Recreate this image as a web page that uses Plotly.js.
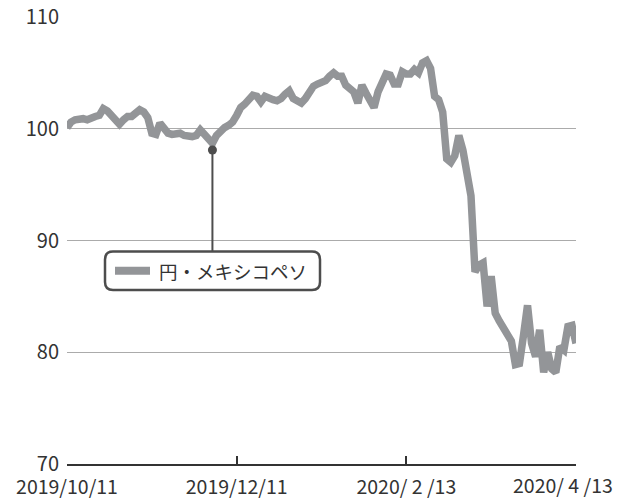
<!DOCTYPE html>
<html>
<head>
<meta charset="utf-8">
<script src="https://cdn.plot.ly/plotly-3.0.1.min.js"></script>
<style>html,body{margin:0;padding:0;background:#fff;}#chart{width:618px;height:499px;}</style>
</head>
<body>
<div id="chart"></div>
<script>
// Trading-day index (0 = 2019/10/11, 126 = 2020/4/13)
const dayIndex = [];
for (let i = 0; i <= 126; i++) dayIndex.push(i);

// 円・メキシコペソ (index, 2019/10/11 = 100)
const yenMxn = [
  100.1, 100.6, 100.8, 100.9, 100.9, 100.8, 101.0, 101.1, 101.2, 101.8,
  101.6, 101.2, 100.8, 100.4, 100.8, 101.1, 101.1, 101.4, 101.7, 101.5,
  101.0, 99.6, 99.5, 100.5, 99.9, 99.6, 99.5, 99.6, 99.6, 99.4,
  99.3, 99.3, 99.4, 99.9, 99.5, 99.0, 98.7, 99.4, 99.8, 100.1,
  100.3, 100.6, 101.2, 101.9, 102.2, 102.7, 103.0, 102.9, 102.4, 102.9,
  102.7, 102.6, 102.5, 102.7, 103.1, 103.4, 102.7, 102.4, 102.3, 102.7,
  103.4, 103.8, 104.0, 104.1, 104.3, 104.7, 105.0, 104.7, 104.7, 103.9,
  103.5, 103.3, 102.3, 103.9, 103.2, 102.4, 101.9, 103.3, 104.3, 104.9,
  104.8, 104.0, 104.0, 105.1, 104.9, 104.9, 105.3, 105.0, 105.9, 106.1,
  105.4, 102.9, 102.6, 101.5, 97.3, 97.0, 97.6, 99.4, 98.1, 96.4,
  94.0, 87.2, 87.8, 88.0, 84.1, 86.8, 83.5, 82.8, 82.2, 81.3,
  81.0, 78.9, 79.0, 81.5, 84.2, 80.8, 79.6, 82.0, 78.2, 80.0,
  78.5, 78.2, 80.5, 80.2, 82.3, 82.4, 80.8
];

const seriesName = "円・メキシコペソ";
const tickVals = [0, 42, 84, 126];
const tickLabels = ["2019/10/11", "2019/12/11", "2020/ 2 /13", "2020/ 4 /13"];
const yTicks = [70, 80, 90, 100, 110];

// highlighted point (callout anchor)
const calloutIndex = [36];
const calloutValue = [98.1];

const FONT = '"Noto Sans CJK JP", "Noto Sans", sans-serif';
const LINE_COLOR = '#939598';
const DARK = '#4d4d4d';

// rounded rectangle path in paper coords
function roundRect(x0, y0, x1, y1, rx, ry) {
  return `M ${x0+rx},${y0} L ${x1-rx},${y0} Q ${x1},${y0} ${x1},${y0+ry} ` +
         `L ${x1},${y1-ry} Q ${x1},${y1} ${x1-rx},${y1} L ${x0+rx},${y1} ` +
         `Q ${x0},${y1} ${x0},${y1-ry} L ${x0},${y0+ry} Q ${x0},${y0} ${x0+rx},${y0} Z`;
}

const W = 509, H = 447;
const boxX0 = 38 / W, boxX1 = 253 / W, boxY0 = 174 / H, boxY1 = 212.5 / H;
const rx = 8 / W, ry = 8 / H;

// the last date label sits flush with the right edge, as in the source
const tickText = tickLabels.slice(0, 3).concat([""]);

const traces = [
  {
    x: dayIndex, y: yenMxn, type: 'scatter', mode: 'lines',
    line: {color: LINE_COLOR, width: 7.5},
    name: seriesName, hoverinfo: 'skip', showlegend: false
  },
  {
    x: calloutIndex, y: calloutValue, type: 'scatter', mode: 'markers',
    marker: {color: DARK, size: 9}, hoverinfo: 'skip', showlegend: false, cliponaxis: false
  }
];

const layout = {
  width: 618, height: 499,
  margin: {l: 67, r: 42, t: 17, b: 35},
  paper_bgcolor: '#fff', plot_bgcolor: '#fff',
  font: {family: FONT, color: '#333', size: 18},
  showlegend: false,
  xaxis: {
    range: [0, 126], tickmode: 'array', tickvals: tickVals, ticktext: tickText,
    showgrid: false, zeroline: false, showline: true, linecolor: '#333', linewidth: 2,
    ticks: 'inside', ticklen: 8, tickwidth: 2, tickcolor: '#333',
    ticklabelstandoff: 5, ticklabeloverflow: 'allow',
    tickfont: {family: FONT, size: 19.5, color: '#333'}, fixedrange: true
  },
  yaxis: {
    range: [70, 110], tickmode: 'array', tickvals: yTicks,
    showgrid: true, gridcolor: '#ababab', gridwidth: 1, zeroline: false,
    showline: false, ticks: '', ticklabelstandoff: 7,
    tickfont: {family: FONT, size: 20, color: '#333'}, fixedrange: true
  },
  shapes: [
    {type: 'line', xref: 'x', yref: 'paper', x0: calloutIndex[0], x1: calloutIndex[0],
     y0: boxY1, y1: (464 - 150) / H, line: {color: DARK, width: 2}, layer: 'above'},
    {type: 'path', xref: 'paper', yref: 'paper', path: roundRect(boxX0, boxY0, boxX1, boxY1, rx, ry),
     fillcolor: '#fff', line: {color: DARK, width: 2.5}, layer: 'above'},
    {type: 'line', xref: 'paper', yref: 'paper', x0: 48 / W, x1: 83 / W,
     y0: 193.3 / H, y1: 193.3 / H, line: {color: LINE_COLOR, width: 8}, layer: 'above'}
  ],
  annotations: [
    {xref: 'paper', yref: 'paper', x: 165.5 / W, y: 193.3 / H, text: seriesName,
     showarrow: false, xanchor: 'center', yanchor: 'middle',
     font: {family: FONT, size: 18.5, color: '#333'}},
    {xref: 'x', yref: 'paper', x: tickVals[3], y: 0, text: tickLabels[3],
     showarrow: false, xanchor: 'right', yanchor: 'middle', xshift: 38, yshift: -20,
     borderpad: 0,
     font: {family: FONT, size: 19.5, color: '#333'}}
  ]
};

Plotly.newPlot('chart', traces, layout, {displayModeBar: false, staticPlot: true});
</script>
</body>
</html>
